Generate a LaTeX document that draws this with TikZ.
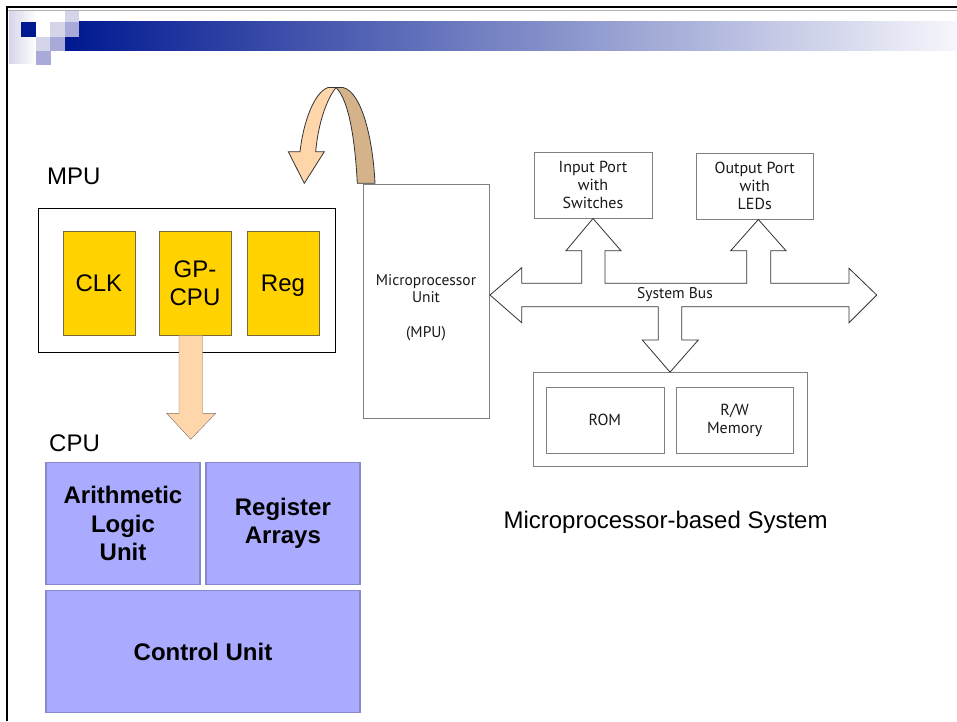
\documentclass[tikz,border=0pt]{standalone}
\usepackage{fontspec}
\setmainfont{Liberation Sans}
\newfontfamily\diagfont{PT Sans}
\usetikzlibrary{positioning}

\definecolor{hdrblue}{RGB}{0,24,144}
\definecolor{hdrmid}{RGB}{146,146,201}
\definecolor{hdrend}{RGB}{246,246,251}
\definecolor{sqmid}{RGB}{170,170,216}
\definecolor{sqlight}{RGB}{213,213,234}
\definecolor{chipyellow}{RGB}{255,210,0}
\definecolor{chipedge}{RGB}{120,105,60}
\definecolor{cpufill}{RGB}{170,170,255}
\definecolor{cpuedge}{RGB}{136,136,204}
\definecolor{peach}{RGB}{255,214,170}
\definecolor{peachdark}{RGB}{212,178,138}
\definecolor{arrowedge}{RGB}{120,110,100}
\definecolor{lineg}{RGB}{128,128,128}

\tikzset{
  slidelabel/.style={anchor=base west, inner sep=0pt, font=\fontsize{24}{28}\selectfont},
  chip/.style={draw=chipedge, fill=chipyellow, minimum width=72pt, minimum height=104pt,
    inner sep=0pt, align=center, font=\fontsize{24}{27.5}\selectfont},
  cpupart/.style={draw=cpuedge, line width=1.5pt, fill=cpufill, inner sep=0pt,
    align=center, font=\fontsize{24}{28.3}\selectfont\bfseries},
  sysbox/.style={draw=lineg, inner sep=0pt, align=center, text=black!90,
    font=\diagfont\fontsize{16}{18}\selectfont},
}

\begin{document}
\begin{tikzpicture}[x=1pt,y=-1pt]

  \path[use as bounding box, fill=white] (0,0) rectangle (957,721);

  % slide header
  \shade[left color=hdrblue, middle color=hdrmid, right color=hdrend] (65,21) rectangle (957,50.7);
  \shade[left color=sqlight, right color=white] (9,10) rectangle (36,63);
  \fill[hdrblue] (21,22) rectangle (36,36.7);
  \fill[sqlight] (50,22) rectangle (64.5,36.7);
  \fill[sqlight] (64.5,10) rectangle (79,21.5);
  \fill[sqmid] (64.5,21.5) rectangle (79,36.7);
  \fill[sqlight] (36,36.7) rectangle (50,50.7);
  \fill[sqmid] (50,36.7) rectangle (65,50.7);
  \fill[sqmid] (36,50.7) rectangle (51,65);
  \draw[line width=2pt] (7,721) -- (7,7) -- (957,7);
  \draw[gray!60] (8,9.8) -- (957,9.8);

  % MPU
  \node[slidelabel] (mpulabel) at (47,184) {MPU};
  \node[draw, inner sep=0pt, minimum width=296.7pt, minimum height=144pt] (mpu) at (186.7,279.7) {};
  \node[chip] (clk) at (98.9,283) {CLK};
  \node[chip] (gpcpu) at (195,283) {GP-\\CPU};
  \node[chip] (reg) at (283,283) {Re\smash{g}};
  \path[fill=peach, draw=arrowedge] (179,335.5) -- (179,413.3) -- (166.7,413.3) -- (190.7,439.3)
    -- (215.7,413.3) -- (202.7,413.3) -- (202.7,335.5);

  % CPU
  \node[slidelabel] (cpulabel) at (49,451.7) {CPU};
  \node[cpupart, minimum width=154pt, minimum height=121.6pt] (alu) at (123,523.5) {Arithmetic\\Logic\\Unit};
  \node[cpupart, minimum width=154.3pt, minimum height=121.6pt] (regarr) at (282.9,523.5) {Register\\Arrays};
  \node[cpupart, minimum width=314pt, minimum height=121.6pt] (cu) at (203,651.5) {Control Unit};

  % microprocessor-based system
  \node[draw=lineg, inner sep=0pt, minimum width=125.7pt, minimum height=234pt] (mpuunit) at (426.2,301) {};
  \node[align=center, text=black!90, font=\diagfont\fontsize{15.5}{17}\selectfont] (mpuname) at (426,308)
    {Microprocessor\\Unit\\[18pt](MPU)};
  \node[sysbox, minimum width=117.4pt, minimum height=66pt] (inport) at (593,185.3) {Input Port\\with\\Switches};
  \node[sysbox, minimum width=117.3pt, minimum height=65.7pt] (outport) at (754.7,186.1) {Output Port\\with\\LEDs};
  \node[sysbox, minimum width=273.4pt, minimum height=93.4pt] (mem) at (670,419) {};
  \node[sysbox, minimum width=117.7pt, minimum height=65.4pt] (rom) at (604.9,420) {ROM};
  \node[sysbox, minimum width=117.3pt, minimum height=65.4pt] (rwmem) at (734.7,420) {R/W\\Memory};

  % system bus
  \draw[draw=black!80, line width=.8pt, fill=white] (490,295) -- (521.7,267.7) -- (521.7,283.3)
    -- (581.7,283.3) -- (581.7,250.7) -- (566,250.7) -- (inport.south) -- (621,250.7) -- (605,250.7)
    -- (605,283.3) -- (746.7,283.3) -- (746.7,250.7) -- (730.7,250.7) -- (758.3,219.5) -- (786,250.7)
    -- (770.7,250.7) -- (770.7,283.3) -- (849,283.3) -- (849,268.3) -- (876.7,295) -- (849,322.7)
    -- (849,306.7) -- (681.7,306.7) -- (681.7,340) -- (698.3,340) -- (mem.north) -- (642.3,340)
    -- (658.3,340) -- (658.3,306.7) -- (521.7,306.7) -- (521.7,322.7) -- cycle;
  \node[text=black!90, font=\diagfont\fontsize{15.5}{17}\selectfont] (buslabel) at (675,295) {System Bus};

  % curved arrow
  \filldraw[fill=peachdark, draw=black!80, line width=.8pt] (336,87.5) -- (343,87.5)
    .. controls (362,92) and (373,140) .. (375,183.3) -- (357.3,183.3)
    .. controls (355,140) and (349,100) .. (336,87.5) -- cycle;
  \filldraw[fill=peach, draw=black!80, line width=.8pt] (336,87.5) -- (328,87.5)
    .. controls (313,93) and (303,125) .. (300,151.7) -- (288.3,151.7) -- (304.3,183.3)
    -- (324.3,151.7) -- (315.7,151.7) .. controls (318,125) and (326,100) .. (336,87.5) -- cycle;

  \node[slidelabel] (caption) at (503.3,528.3) {Microprocessor-based System};

\end{tikzpicture}
\end{document}
